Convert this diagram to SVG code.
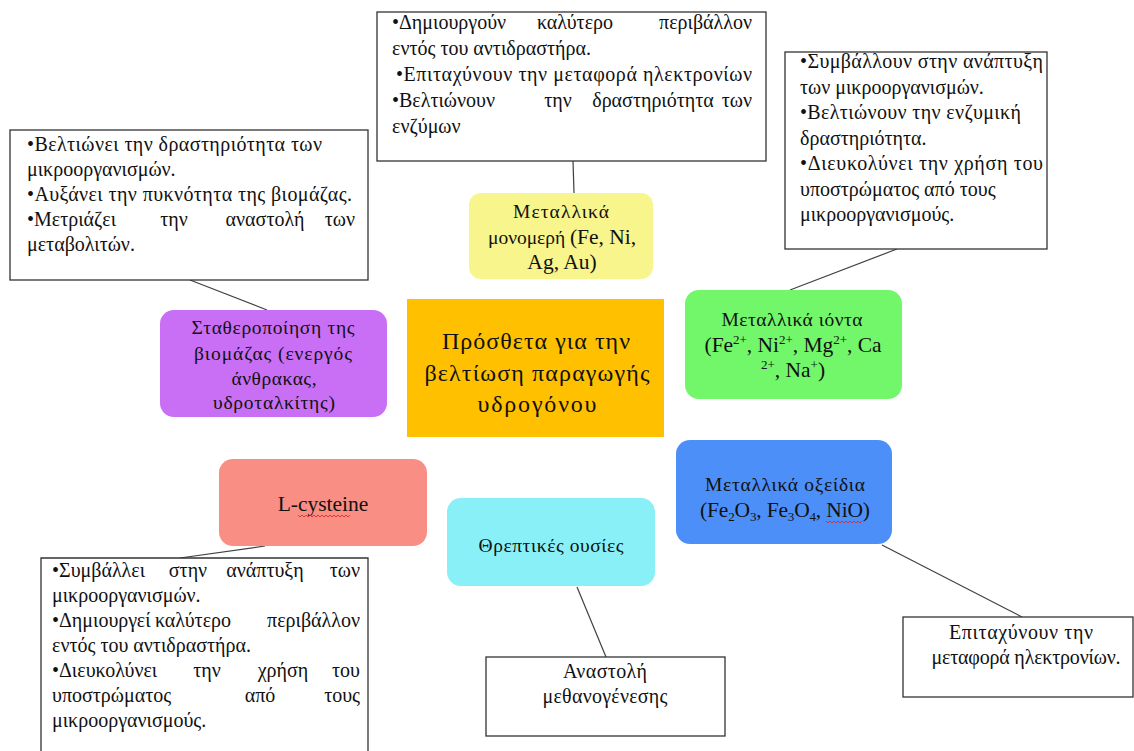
<svg xmlns="http://www.w3.org/2000/svg" width="1134" height="751" viewBox="0 0 1134 751">
<style>
text{font-family:"Liberation Serif","DejaVu Serif","Noto Serif",serif;font-size:20px;fill:#111}
.c{text-anchor:middle}
.e{text-anchor:end}
.n{font-size:21.5px}
.g{font-size:19.5px}
.sup{font-size:13px}
.box{fill:#fff;stroke:#333;stroke-width:1.3}
.big{font-size:24px}
.conn line{stroke:#404040;stroke-width:1.2}
.wavy{fill:none;stroke:#e02020;stroke-width:0.8}
</style>
<rect width="1134" height="751" fill="#fff"/>
<g class="conn">
<line x1="573" y1="161" x2="574" y2="193"/>
<line x1="897" y1="249" x2="790" y2="290"/>
<line x1="190" y1="280" x2="267" y2="310"/>
<line x1="265" y1="546" x2="180" y2="558"/>
<line x1="577" y1="587" x2="606" y2="657"/>
<line x1="882" y1="545" x2="1022" y2="617"/>
</g>
<g id="box-top">
<rect class="box" x="377" y="12" width="389" height="149"/>
<text x="392" y="29">•Δημιουργούν</text><text class="c" x="575" y="29">καλύτερο</text><text class="e" x="752" y="29">περιβάλλον</text>
<text x="392" y="55">εντός του αντιδραστήρα.</text>
<text x="396" y="81" textLength="356" lengthAdjust="spacing">•Επιταχύνουν την μεταφορά ηλεκτρονίων</text>
<text x="392" y="107">•Βελτιώνουν</text><text class="c" x="558" y="107">την</text><text class="c" x="653" y="107">δραστηριότητα</text><text class="e" x="752" y="107">των</text>
<text x="392" y="133">ενζύμων</text>
</g>
<g id="box-right-top">
<rect class="box" x="785" y="52" width="262" height="197"/>
<text x="800" y="68" textLength="243" lengthAdjust="spacing">•Συμβάλλουν στην ανάπτυξη</text>
<text x="800" y="94">των μικροοργανισμών.</text>
<text x="800" y="119" textLength="221" lengthAdjust="spacing">•Βελτιώνουν την ενζυμική</text>
<text x="800" y="145">δραστηριότητα.</text>
<text x="800" y="170" textLength="243" lengthAdjust="spacing">•Διευκολύνει την χρήση του</text>
<text x="800" y="196">υποστρώματος από τους</text>
<text x="800" y="221">μικροοργανισμούς.</text>
</g>
<g id="box-left">
<rect class="box" x="10" y="130" width="358" height="150"/>
<text x="27" y="151" textLength="295" lengthAdjust="spacing">•Βελτιώνει την δραστηριότητα των</text>
<text x="27" y="176">μικροοργανισμών.</text>
<text x="27" y="201" textLength="325" lengthAdjust="spacing">•Αυξάνει την πυκνότητα της βιομάζας.</text>
<text x="27" y="226">•Μετριάζει</text><text class="c" x="174" y="226">την</text><text class="c" x="265" y="226">αναστολή</text><text class="e" x="355" y="226">των</text>
<text x="27" y="251">μεταβολιτών.</text>
</g>
<g id="box-bottom-left">
<path class="box" d="M41,751 V558 H368 V751"/>
<text x="52" y="577">•Συμβάλλει</text><text class="c" x="188" y="577">στην</text><text class="c" x="265" y="577">ανάπτυξη</text><text class="e" x="360" y="577">των</text>
<text x="52" y="602">μικροοργανισμών.</text>
<text x="52" y="627">•Δημιουργεί</text><text class="c" x="193" y="627">καλύτερο</text><text class="e" x="360" y="627">περιβάλλον</text>
<text x="52" y="652">εντός του αντιδραστήρα.</text>
<text x="52" y="677">•Διευκολύνει</text><text class="c" x="207" y="677">την</text><text class="c" x="283" y="677">χρήση</text><text class="e" x="360" y="677">του</text>
<text x="52" y="702">υποστρώματος</text><text class="c" x="260" y="702">από</text><text class="e" x="360" y="702">τους</text>
<text x="52" y="727">μικροοργανισμούς.</text>
</g>
<g id="box-bottom-center">
<rect class="box" x="486" y="657" width="239" height="79"/>
<text class="c" x="605" y="678" textLength="84" lengthAdjust="spacing">Αναστολή</text>
<text class="c" x="605" y="703" textLength="125" lengthAdjust="spacing">μεθανογένεσης</text>
</g>
<g id="box-bottom-right">
<rect class="box" x="903" y="617" width="230" height="80"/>
<text class="c" x="1021" y="639" textLength="144" lengthAdjust="spacing">Επιταχύνουν την</text>
<text class="c" x="1026" y="664" textLength="189" lengthAdjust="spacing">μεταφορά ηλεκτρονίων.</text>
</g>
<g id="node-monomers">
<rect x="469" y="193" width="184" height="86" rx="12" fill="#f7f58c"/>
<text class="c g" x="561" y="218" textLength="96" lengthAdjust="spacing">Μεταλλικά</text>
<text class="c n" x="562" y="244" textLength="148" lengthAdjust="spacing"><tspan class="g">μονομερή </tspan>(Fe, Ni,</text>
<text class="c n" x="562" y="269">Ag, Au)</text>
</g>
<g id="node-biomass">
<rect x="160" y="310" width="227" height="107" rx="14" fill="#c86ff5"/>
<text class="c g" x="273" y="334" textLength="163" lengthAdjust="spacing">Σταθεροποίηση της</text>
<text class="c g" x="273" y="360" textLength="158" lengthAdjust="spacing">βιομάζας (ενεργός</text>
<text class="c g" x="274" y="385" textLength="85" lengthAdjust="spacing">άνθρακας,</text>
<text class="c g" x="274" y="409" textLength="122" lengthAdjust="spacing">υδροταλκίτης)</text>
</g>
<g id="node-center">
<rect x="407" y="299" width="257" height="138" fill="#ffc000"/>
<text class="c big" x="536" y="349" textLength="188" lengthAdjust="spacing">Πρόσθετα για την</text>
<text class="c big" x="537" y="381" textLength="225" lengthAdjust="spacing">βελτίωση παραγωγής</text>
<text class="c big" x="537" y="412" textLength="119" lengthAdjust="spacing">υδρογόνου</text>
</g>
<g id="node-ions">
<rect x="685" y="290" width="217" height="109" rx="14" fill="#72f66a"/>
<text class="c g" x="792" y="326" textLength="141" lengthAdjust="spacing">Μεταλλικά ιόντα</text>
<text class="c n" x="793" y="352" textLength="177" lengthAdjust="spacing">(Fe<tspan class="sup" dy="-8">2+</tspan><tspan dy="8">, Ni</tspan><tspan class="sup" dy="-8">2+</tspan><tspan dy="8">, Mg</tspan><tspan class="sup" dy="-8">2+</tspan><tspan dy="8">, Ca</tspan></text>
<text class="c n" x="793" y="377"><tspan class="sup" dy="-8">2+</tspan><tspan dy="8">, Na</tspan><tspan class="sup" dy="-8">+</tspan><tspan dy="8">)</tspan></text>
</g>
<g id="node-oxides">
<rect x="676" y="440" width="216" height="104" rx="14" fill="#4d8ff8"/>
<text class="c g" x="785" y="491" textLength="160" lengthAdjust="spacing">Μεταλλικά οξείδια</text>
<text class="c n" x="785" y="517" textLength="170" lengthAdjust="spacing">(Fe<tspan class="sup" dy="4">2</tspan><tspan dy="-4">O</tspan><tspan class="sup" dy="4">3</tspan><tspan dy="-4">, Fe</tspan><tspan class="sup" dy="4">3</tspan><tspan dy="-4">O</tspan><tspan class="sup" dy="4">4</tspan><tspan dy="-4">, NiO)</tspan></text>
<path class="wavy" d="M826,521 l2,2 l2,-2 l2,2 l2,-2 l2,2 l2,-2 l2,2 l2,-2 l2,2 l2,-2 l2,2 l2,-2 l2,2 l2,-2 l2,2 l2,-2 l2,2 l2,-2"/>
</g>
<g id="node-cysteine">
<rect x="219" y="459" width="208" height="87" rx="14" fill="#f88e84"/>
<text class="c n" x="323" y="511">L-cysteine</text>
<path class="wavy" d="M298,515 l2,2 l2,-2 l2,2 l2,-2 l2,2 l2,-2 l2,2 l2,-2 l2,2 l2,-2 l2,2 l2,-2 l2,2 l2,-2 l2,2 l2,-2 l2,2 l2,-2 l2,2 l2,-2 l2,2 l2,-2 l2,2 l2,-2 l2,2 l2,-2"/>
</g>
<g id="node-nutrients">
<rect x="447" y="498" width="208" height="88" rx="14" fill="#88f0f6"/>
<text class="c g" x="551" y="552" textLength="145" lengthAdjust="spacing">Θρεπτικές ουσίες</text>
</g>
</svg>
